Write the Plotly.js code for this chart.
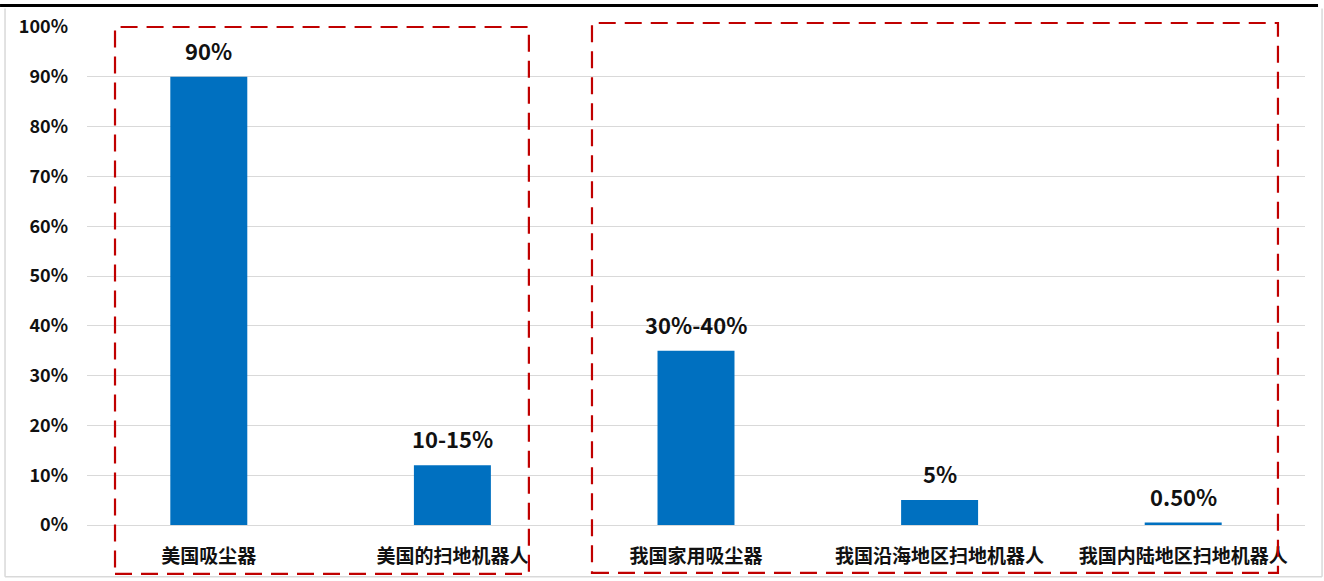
<!DOCTYPE html>
<html>
<head>
<meta charset="utf-8">
<script src="https://cdn.plot.ly/plotly-3.0.1.min.js"></script>
<style>html,body{margin:0;padding:0;background:#fff;}#chart{width:1324px;height:581px;}</style>
</head>
<body>
<div id="chart"></div>
<script>
const categories = ["美国吸尘器", "美国的扫地机器人", "我国家用吸尘器", "我国沿海地区扫地机器人", "我国内陆地区扫地机器人"];
const values = [90, 12, 35, 5, 0.5];
const valueLabels = ["90%", "10-15%", "30%-40%", "5%", "0.50%"];
const tickValues = [0, 10, 20, 30, 40, 50, 60, 70, 80, 90, 100];
const tickLabels = ["0%", "10%", "20%", "30%", "40%", "50%", "60%", "70%", "80%", "90%", "100%"];

const FONT = '"Noto Sans CJK SC", "Noto Sans", sans-serif';
const red = '#C00000';
const xs = categories.map((c, i) => i);
const trace = {
  type: 'bar',
  x: xs,
  y: values,
  marker: {color: '#0070C0'},
  hoverinfo: 'skip'
};
const annotations = xs.map((x, i) => ({
  x: x, y: values[i], xref: 'x', yref: 'y',
  text: valueLabels[i], showarrow: false,
  yanchor: 'bottom', yshift: 9,
  font: {family: FONT, size: 22, color: '#111', weight: 'bold'}
}));
const dash = '17px,9px';
const layout = {
  width: 1324, height: 581,
  margin: {l: 87, r: 19, t: 27, b: 56},
  paper_bgcolor: '#fff', plot_bgcolor: '#fff',
  showlegend: false,
  bargap: 0.684,
  font: {family: FONT, color: '#111'},
  annotations: annotations,
  xaxis: {
    tickmode: 'array', tickvals: xs, ticktext: categories,
    range: [-0.5, categories.length - 0.5],
    tickfont: {family: FONT, size: 19, color: '#111', weight: 'bold'},
    showgrid: false, zeroline: false, showline: false, ticks: '', ticklen: 0,
    ticklabelstandoff: 18
  },
  yaxis: {
    range: [0, 100], tickmode: 'array', tickvals: tickValues, ticktext: tickLabels,
    tickfont: {family: FONT, size: 18, color: '#111', weight: 'bold'},
    showgrid: true, gridcolor: '#d9d9d9', gridwidth: 1,
    zeroline: true, zerolinecolor: '#d9d9d9', zerolinewidth: 1,
    showline: false, ticks: '', ticklabelstandoff: 18
  },
  shapes: [
    {type: 'line', xref: 'paper', yref: 'paper', x0: -0.0714, x1: 1.0107, y0: 1.043, y1: 1.043, line: {color: '#000', width: 3}},
    {type: 'line', xref: 'paper', yref: 'paper', x0: -0.0673, x1: -0.0673, y0: 1.037, y1: -0.104, line: {color: '#d9d9d9', width: 1.5}},
    {type: 'line', xref: 'paper', yref: 'paper', x0: 1.0140, x1: 1.0140, y0: 1.037, y1: -0.104, line: {color: '#d9d9d9', width: 1.5}},
    {type: 'line', xref: 'paper', yref: 'paper', x0: -0.0673, x1: 1.0140, y0: -0.104, y1: -0.104, line: {color: '#d9d9d9', width: 1.5}},
    {type: 'rect', xref: 'x', yref: 'paper', x0: -0.385, x1: 1.314, y0: -0.098, y1: 1.0, line: {color: red, width: 2.2, dash: dash}},
    {type: 'rect', xref: 'x', yref: 'paper', x0: 1.573, x1: 4.389, y0: -0.096, y1: 1.008, line: {color: red, width: 2.2, dash: dash}}
  ]
};
Plotly.newPlot('chart', [trace], layout, {displayModeBar: false, staticPlot: true});
</script>
</body>
</html>
